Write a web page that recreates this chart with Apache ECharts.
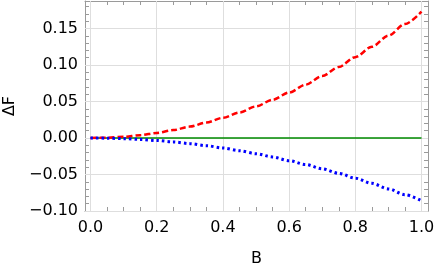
<!DOCTYPE html>
<html>
<head>
<meta charset="utf-8">
<script src="https://cdn.jsdelivr.net/npm/echarts@6/dist/echarts.min.js"></script>
<style>html,body{margin:0;padding:0;background:#fff;}#c{width:436px;height:268px;}</style>
</head>
<body>
<div id="c"></div>
<script>
var B = [0, 0.05, 0.1, 0.15, 0.2, 0.25, 0.3, 0.35, 0.4, 0.45, 0.5, 0.55, 0.6, 0.65, 0.7, 0.75, 0.8, 0.85, 0.9, 0.95, 1.0];
var redF = [0, 0.0004, 0.0017, 0.0039, 0.0070, 0.0108, 0.0156, 0.0212, 0.0277, 0.0350, 0.0433, 0.0523, 0.0623, 0.0731, 0.0848, 0.0973, 0.1108, 0.1250, 0.1402, 0.1562, 0.1730];
var blueF = [0, -0.0002, -0.0009, -0.0019, -0.0034, -0.0053, -0.0077, -0.0105, -0.0137, -0.0174, -0.0215, -0.0260, -0.0310, -0.0363, -0.0421, -0.0484, -0.0550, -0.0621, -0.0697, -0.0776, -0.0860];
var greenF = [0, 0, 0, 0, 0, 0, 0, 0, 0, 0, 0, 0, 0, 0, 0, 0, 0, 0, 0, 0, 0];
var xMajor = [0, 0.2, 0.4, 0.6, 0.8, 1.0];
var xMinor = [0.05, 0.1, 0.15, 0.25, 0.3, 0.35, 0.45, 0.5, 0.55, 0.65, 0.7, 0.75, 0.85, 0.9, 0.95];
var yMajor = [-0.1, -0.05, 0, 0.05, 0.1, 0.15];
var yMinor = [-0.09, -0.08, -0.07, -0.06, -0.04, -0.03, -0.02, -0.01, 0.01, 0.02, 0.03, 0.04, 0.06, 0.07, 0.08, 0.09, 0.11, 0.12, 0.13, 0.14, 0.16, 0.17, 0.18];

var XMIN = -0.0166, XMAX = 1.0196, YMIN = -0.1, YMAX = 0.1877;
var frameColor = '#9a9a9a';
var gridColor = '#dedede';
var FONT = 'DejaVu Sans';
var FS = 16;

function pair(a, b) { return a.map(function (v, i) { return [v, b[i]]; }); }

function xAx(pos, vals, len, showLine, labels) {
  return {
    type: 'value', position: pos, min: XMIN, max: XMAX,
    axisLine: { show: showLine, onZero: false, lineStyle: { color: frameColor, width: 1 } },
    axisTick: { show: true, inside: true, length: len, customValues: vals, lineStyle: { color: frameColor } },
    axisLabel: labels ? { show: true, customValues: vals, color: '#000', fontFamily: FONT, fontSize: FS, margin: 9,
      formatter: function (v) { return v.toFixed(1); } } : { show: false, customValues: vals },
    splitLine: { show: false },
    minorSplitLine: { show: false }
  };
}
function yAx(pos, vals, len, showLine, labels) {
  return {
    type: 'value', position: pos, min: YMIN, max: YMAX,
    axisLine: { show: showLine, onZero: false, lineStyle: { color: frameColor, width: 1 } },
    axisTick: { show: true, inside: true, length: len, customValues: vals, lineStyle: { color: frameColor } },
    axisLabel: labels ? { show: true, customValues: vals, color: '#000', fontFamily: FONT, fontSize: FS, margin: 7,
      formatter: function (v) { var s = Math.abs(v).toFixed(2); return (v < -1e-9 ? '\u2212' : '') + s; } } : { show: false, customValues: vals },
    splitLine: { show: false },
    minorSplitLine: { show: false }
  };
}

var xs = [xAx('bottom', xMajor, 7, true, true), xAx('bottom', xMinor, 4, false, false),
          xAx('top', xMajor, 7, true, false), xAx('top', xMinor, 4, false, false)];
xs[0].name = 'B'; xs[0].nameLocation = 'middle'; xs[0].nameGap = 40;
xs[0].nameTextStyle = { color: '#000', fontFamily: FONT, fontSize: FS };

var ys = [yAx('left', yMajor, 7, true, true), yAx('left', yMinor, 4, false, false),
          yAx('right', yMajor, 7, true, false), yAx('right', yMinor, 4, false, false)];
ys[0].name = '\u0394F'; ys[0].nameLocation = 'middle'; ys[0].nameGap = 66; ys[0].nameRotate = 90;
ys[0].nameTextStyle = { color: '#000', fontFamily: FONT, fontSize: FS };

var gridLines = xMajor.map(function (v) { return { xAxis: v }; })
  .concat(yMajor.map(function (v) { return { yAxis: v }; }));

var chart = echarts.init(document.getElementById('c'), null, { renderer: 'canvas' });
chart.setOption({
  animation: false,
  backgroundColor: '#fff',
  grid: { left: 85, right: 8, top: 1, bottom: 57, containLabel: false, outerBoundsMode: 'none' },
  xAxis: xs,
  yAxis: ys,
  series: [
    { type: 'line', data: pair(B, greenF), xAxisIndex: 0, yAxisIndex: 0, showSymbol: false, z: 3,
      lineStyle: { color: '#008a00', width: 1.6 },
      markLine: { silent: true, symbol: ['none', 'none'], z: 1, animation: false,
        label: { show: false }, lineStyle: { color: gridColor, width: 1, type: 'solid' }, data: gridLines } },
    { type: 'line', data: pair(B, redF), xAxisIndex: 0, yAxisIndex: 0, showSymbol: false, smooth: 0.3, smoothMonotone: 'x', z: 4,
      lineStyle: { color: '#ff0000', width: 2.5, type: [6, 3] } },
    { type: 'line', data: pair(B, blueF), xAxisIndex: 0, yAxisIndex: 0, showSymbol: false, smooth: 0.3, smoothMonotone: 'x', z: 4,
      lineStyle: { color: '#0000ff', width: 3, type: [2.5, 3] } }
  ]
});
</script>
</body>
</html>
